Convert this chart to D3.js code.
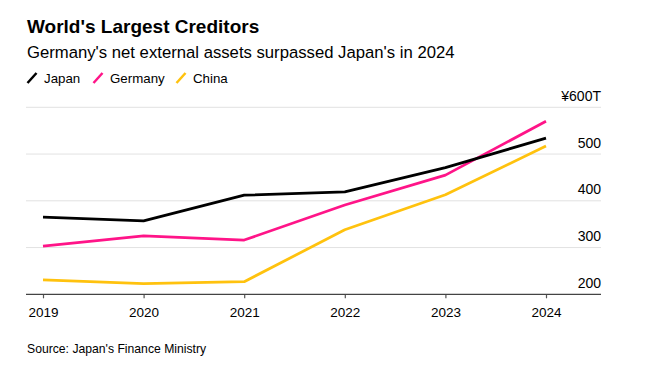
<!DOCTYPE html>
<html lang="en">
<head>
    <meta charset="UTF-8">
    <title>World's Largest Creditors</title>
    <script src="https://d3js.org/d3.v7.min.js"></script>
    <style>
        body {
            margin: 0;
            background: #ffffff;
            font-family: 'Liberation Sans', Arial, Helvetica, sans-serif;
        }
        svg text {
            fill: #000;
        }
        .grid line {
            stroke: #e2e2e2;
            stroke-width: 1px;
        }
        .series {
            fill: none;
            stroke-width: 2.75px;
            stroke-linejoin: round;
        }
    </style>
</head>
<body>
    <div id="chart"></div>

    <script>
        // data, trillions of yen
        const years = [2019, 2020, 2021, 2022, 2023, 2024];
        const japan = [365, 357, 412, 419, 471, 534];
        const germany = [303, 325, 316, 391, 455, 570];
        const china = [231, 223, 227, 338, 413, 517];
        const yTicks = [200, 300, 400, 500, 600];
        const seriesNames = ["Japan", "Germany", "China"];
        const seriesColors = ["#000000", "#ff1488", "#ffc20e"];

        const width = 664;
        const height = 371;

        const svg = d3.select("#chart")
            .append("svg")
            .attr("width", width)
            .attr("height", height);

        const x = d3.scalePoint()
            .domain(years)
            .range([43, 546]);

        const y = d3.scaleLinear()
            .domain([200, 600])
            .range([294.3, 107.3]);

        // title block
        svg.append("text")
            .attr("x", 27).attr("y", 33)
            .attr("font-size", 19).attr("font-weight", "bold")
            .text("World's Largest Creditors");

        svg.append("text")
            .attr("x", 27).attr("y", 58)
            .attr("font-size", 16.7)
            .text("Germany's net external assets surpassed Japan's in 2024");

        // legend
        const legendX = [27, 93, 176];
        const legend = svg.selectAll(".legend")
            .data(seriesNames)
            .join("g")
            .attr("class", "legend")
            .attr("transform", (d, i) => `translate(${legendX[i]}, 83)`);

        legend.append("line")
            .attr("x1", 0.5).attr("y1", 0)
            .attr("x2", 9.5).attr("y2", -10)
            .attr("stroke", (d, i) => seriesColors[i])
            .attr("stroke-width", 2.5);

        legend.append("text")
            .attr("x", 17).attr("y", 0)
            .attr("font-size", 13.3)
            .text(d => d);

        // gridlines
        svg.append("g")
            .attr("class", "grid")
            .selectAll("line")
            .data(yTicks.filter(t => t > 200))
            .join("line")
            .attr("x1", 26).attr("x2", 601)
            .attr("y1", d => y(d)).attr("y2", d => y(d));

        // y labels sit above the gridlines on the right
        svg.append("g")
            .selectAll("text")
            .data(yTicks)
            .join("text")
            .attr("x", 601)
            .attr("y", d => y(d) - 6.5)
            .attr("text-anchor", "end")
            .attr("font-size", 14)
            .text(d => d === 600 ? "¥600T" : d);

        // x axis
        const xAxis = svg.append("g")
            .attr("transform", `translate(0, ${y(200)})`)
            .call(d3.axisBottom(x).tickSize(4).tickPadding(9).tickSizeOuter(0));

        xAxis.select(".domain").remove();
        xAxis.selectAll(".tick line").attr("stroke", "#555").attr("stroke-width", 1.2);
        xAxis.selectAll(".tick text")
            .attr("font-size", 13.5)
            .attr("font-family", "'Liberation Sans', Arial, sans-serif")
            .attr("fill", "#000");

        xAxis.append("line")
            .attr("x1", 26).attr("x2", 601)
            .attr("y1", 0).attr("y2", 0)
            .attr("stroke", "#444")
            .attr("stroke-width", 1.3);

        // lines, japan drawn last so it sits on top
        const line = d3.line()
            .x((d, i) => x(years[i]))
            .y(d => y(d));

        const allSeries = [china, germany, japan];
        const allColors = [seriesColors[2], seriesColors[1], seriesColors[0]];
        svg.selectAll(".series")
            .data(allSeries)
            .join("path")
            .attr("class", "series")
            .attr("stroke", (d, i) => allColors[i])
            .attr("d", d => line(d));

        svg.append("text")
            .attr("x", 27).attr("y", 353)
            .attr("font-size", 12.2)
            .text("Source: Japan's Finance Ministry");
    </script>
</body>
</html>
